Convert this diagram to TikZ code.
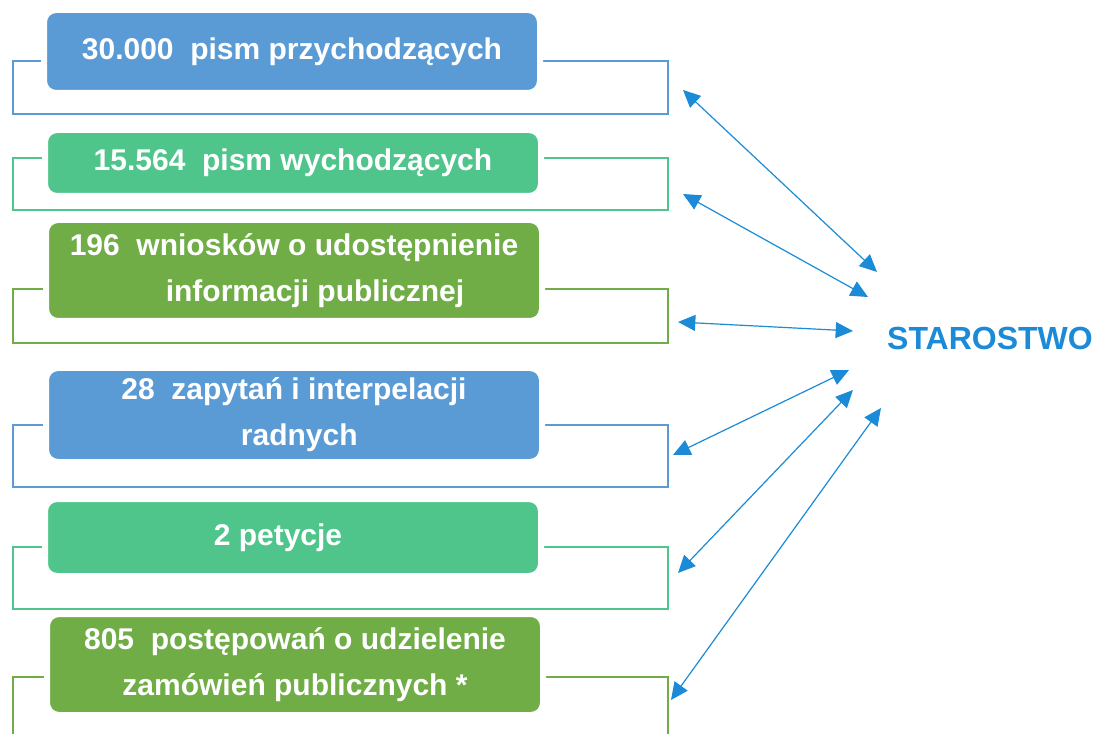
\documentclass[tikz,border=0pt]{standalone}
\usepackage{fontspec}
\setmainfont{Liberation Sans}
\usetikzlibrary{arrows.meta}

\definecolor{boxblue}{HTML}{5B9BD5}
\definecolor{boxmint}{HTML}{4FC58C}
\definecolor{boxgreen}{HTML}{70AD47}
\definecolor{arrowblue}{HTML}{1B8BD7}

\begin{document}
\begin{tikzpicture}[x = 0.75pt, y = -0.75pt, > = {Triangle[length = 13pt, width = 12pt]},
	box/.style = {draw = white, line width = 4.5pt, rounded corners = 9pt, minimum width = 372pt, inner sep = 0pt,
		text = white, align = center, font = \fontsize{22.5}{34.5}\selectfont\bfseries},
	frame/.style = {line width = 1.5pt}]

	\useasboundingbox (0,0) rectangle (1093,734);

	% Open frames behind the boxes

	\foreach \col/\t/\b in {boxblue/61/114, boxmint/158/210, boxgreen/289/343, boxblue/425/487, boxmint/547/609, boxgreen/677/760}
		\draw [frame, draw = \col] (13,\t) rectangle (668,\b);

	% Boxes with the numbers

	\node [box, fill = boxblue, minimum height = 62.25pt] (przychodzace) at (292,51.5) {30.000~ pism przychodzących};
	\node [box, fill = boxmint, minimum height = 49.5pt] (wychodzace) at (293,163) {15.564~ pism wychodzących};
	\node [box, fill = boxgreen, minimum height = 75.75pt] (wnioski) at (294,270.5) {196~ wniosków o udostępnienie\\\hspace*{31.5pt}informacji publicznej};
	\node [box, fill = boxblue, minimum height = 70.5pt] (zapytania) at (294,415) {28~ zapytań i interpelacji\\\hspace*{8pt}radnych};
	\node [box, fill = boxmint, minimum height = 57.75pt] (petycje) at (293,537.5) {2 petycje\hspace*{22.5pt}};
	\node [box, fill = boxgreen, minimum height = 75.75pt] (zamowienia) at (295,664.5) {805~ postępowań o udzielenie\\zamówień publicznych *};

	\node [text = arrowblue, inner sep = 0pt, font = \fontsize{24}{24}\selectfont\bfseries] (starostwo) at (990,338) {STAROSTWO};

	% Two-way arrows

	\foreach \n/\xa/\ya/\xb/\yb in {1/683/90/877/272, 2/683/194/868/297, 3/678/322/853/331, 4/673/455/849/370, 5/678/573/853/390, 6/671/700/881/408} {
		\coordinate (from\n) at (\xa,\ya);
		\coordinate (to\n) at (\xb,\yb);
		\draw [<->, arrowblue, line width = 0.9pt] (from\n) -- (to\n);
	}

\end{tikzpicture}
\end{document}
